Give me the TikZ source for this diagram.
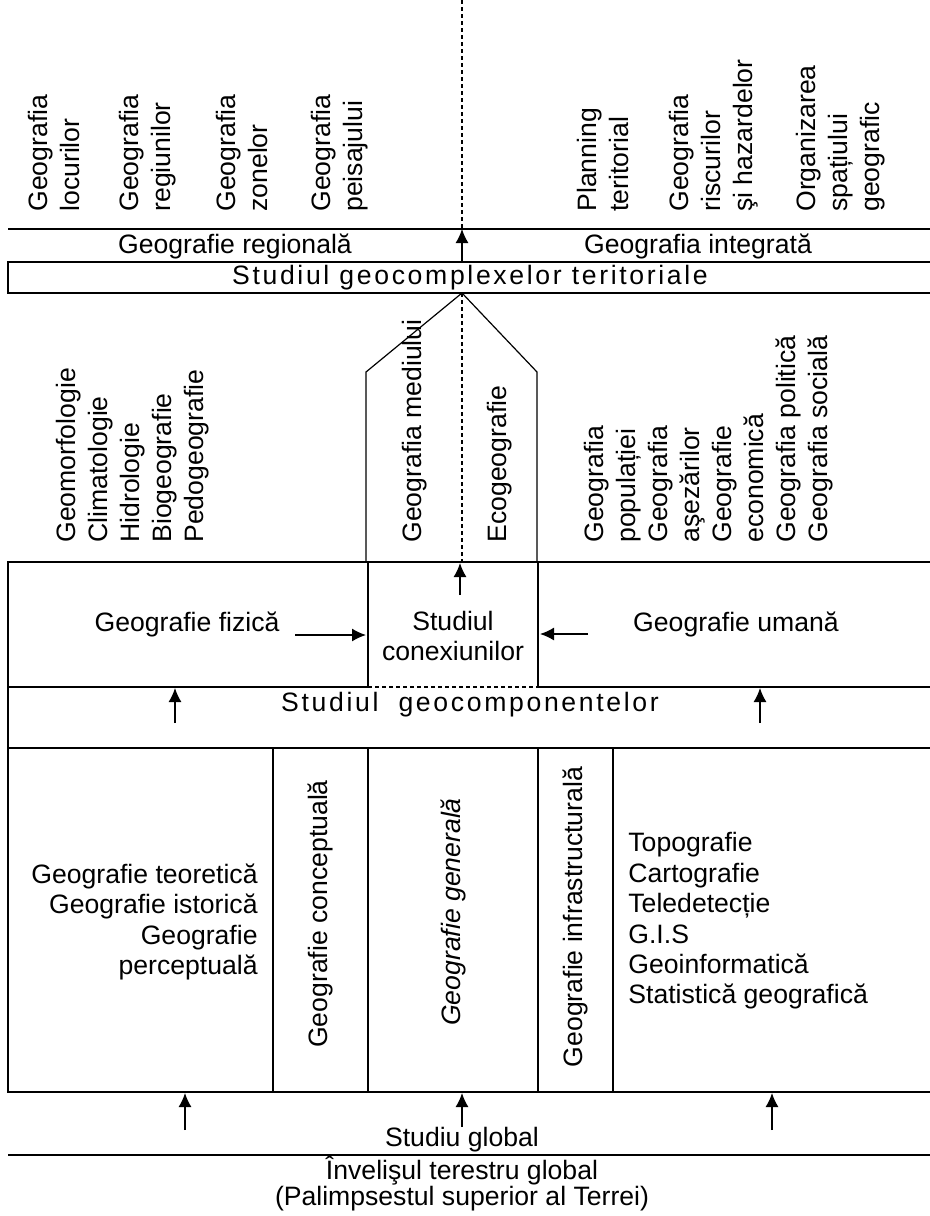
\documentclass[tikz,border=0pt]{standalone}
\usepackage{fontspec}
\setmainfont{Liberation Sans}
\newfontfamily\spacedfont[LetterSpace=10]{Liberation Sans}
\usetikzlibrary{arrows.meta,positioning}

\begin{document}
\begin{tikzpicture}[x=0.5pt,y=-0.5pt,
  every node/.style={inner sep=0pt,font=\fontsize{13.3}{16}\selectfont},
  frame/.style={line width=1pt},
  fine/.style={line width=0.6pt},
  axis/.style={line width=1pt,dash pattern=on 2pt off 1.5pt},
  up/.style={-{Latex[length=7pt,width=6.5pt]},line width=0.7pt},
  vlist/.style={rotate=90,anchor=west,align=left},
  hlist/.style={font=\fontsize{13.3}{15.2}\selectfont},
  spaced/.style={font=\fontsize{13.3}{16}\spacedfont}]
\useasboundingbox (0,0) rectangle (930,1216);

% upper row
\node[vlist] (locuri) at (54,212) {Geografia\\locurilor};
\node[vlist] (regiuni) at (148,212) {Geografia\\regiunilor};
\node[vlist] (zone) at (242,212) {Geografia\\zonelor};
\node[vlist] (peisaj) at (340,212) {Geografia\\peisajului};
\node[vlist] (planning) at (603,212) {Planning\\teritorial};
\node[vlist] (riscuri) at (714,212) {Geografia\\riscurilor\\şi hazardelor};
\node[vlist] (organizare) at (841,212) {Organizarea\\spațiului\\geografic};
\node (regionala) at (235,246) {Geografie regională};
\node (integrata) at (698,246) {Geografia integrată};
\node[spaced] (geocomplex) at (470,278) {Studiul geocomplexelor teritoriale};

% middle row
\node[vlist] (fizice) at (133,543) {Geomorfologie\\Climatologie\\Hidrologie\\Biogeografie\\Pedogeografie};
\node[vlist] (mediu) at (415,543) {Geografia mediului};
\node[vlist] (eco) at (500,543) {Ecogeografie};
\node[vlist] (umane) at (709,543) {Geografia\\populației\\Geografia\\aşezărilor\\Geografie\\economică\\Geografia politică\\Geografia socială};
\node (fizica) at (187,624) {Geografie fizică};
\node[align=center,font=\fontsize{13.3}{14.6}\selectfont] (conex) at (453,636) {Studiul\\conexiunilor};
\node (umana) at (736,624) {Geografie umană};
\node[spaced] (geocomp) at (470,705) {Studiul~ geocomponentelor};

% lower row
\node[hlist,align=right,anchor=east] (teoretica) at (258,922) {Geografie teoretică\\Geografie istorică\\Geografie\\perceptuală};
\node[rotate=90] (conceptuala) at (320,914) {Geografie conceptuală};
\node[rotate=90,font=\fontsize{13.3}{16}\itshape] (generala) at (453,912) {Geografie generală};
\node[rotate=90] (infra) at (575,917) {Geografie infrastructurală};
\node[hlist,align=left,anchor=west] (tehnice) at (628,921) {Topografie\\Cartografie\\Teledetecție\\G.I.S\\Geoinformatică\\Statistică geografică};
\node (global) at (462,1140) {Studiu global};
\node (invelis) at (462,1171) {Învelişul terestru global};
\node (palimpsest) at (462,1199) {(Palimpsestul superior al Terrei)};

% frames
\draw[frame] (8,229) -- (930,229);
\draw[frame] (930,262) -- (8,262) -- (8,293) -- (930,293);
\draw[fine] (366,562) -- (366,372) -- (462,293) -- (537,372) -- (537,562);
\draw[axis] (462,0) -- (462,229);
\draw[axis] (462,293) -- (462,562);
\draw[frame] (930,562) -- (8,562) -- (8,1092) -- (930,1092);
\draw[frame] (368,562) -- (368,687) (538,562) -- (538,687);
\draw[frame] (8,687) -- (368,687) (538,687) -- (930,687);
\draw[axis] (368,687) -- (538,687);
\draw[frame] (8,748) -- (930,748);
\draw[frame] (273,748) -- (273,1092) (368,748) -- (368,1092)
  (538,748) -- (538,1092) (613,748) -- (613,1092);
\draw[frame] (8,1155) -- (930,1155);

% arrows
\coordinate (a1) at (462,262); \coordinate (b1) at (462,229);
\coordinate (a2) at (460,595); \coordinate (b2) at (460,563);
\coordinate (a3) at (295,635); \coordinate (b3) at (366,635);
\coordinate (a4) at (588,634); \coordinate (b4) at (540,634);
\coordinate (a5) at (175,723); \coordinate (b5) at (175,688);
\coordinate (a6) at (760,723); \coordinate (b6) at (760,688);
\coordinate (a7) at (185,1130); \coordinate (b7) at (185,1093);
\coordinate (a8) at (772,1130); \coordinate (b8) at (772,1093);
\coordinate (b9) at (462,1093);
\path[up]
(a1) edge (b1)
(a2) edge (b2)
(a3) edge (b3)
(a4) edge (b4)
(a5) edge (b5)
(a6) edge (b6)
(a7) edge (b7)
(a8) edge (b8)
(global.north) edge (b9);
\end{tikzpicture}
\end{document}
